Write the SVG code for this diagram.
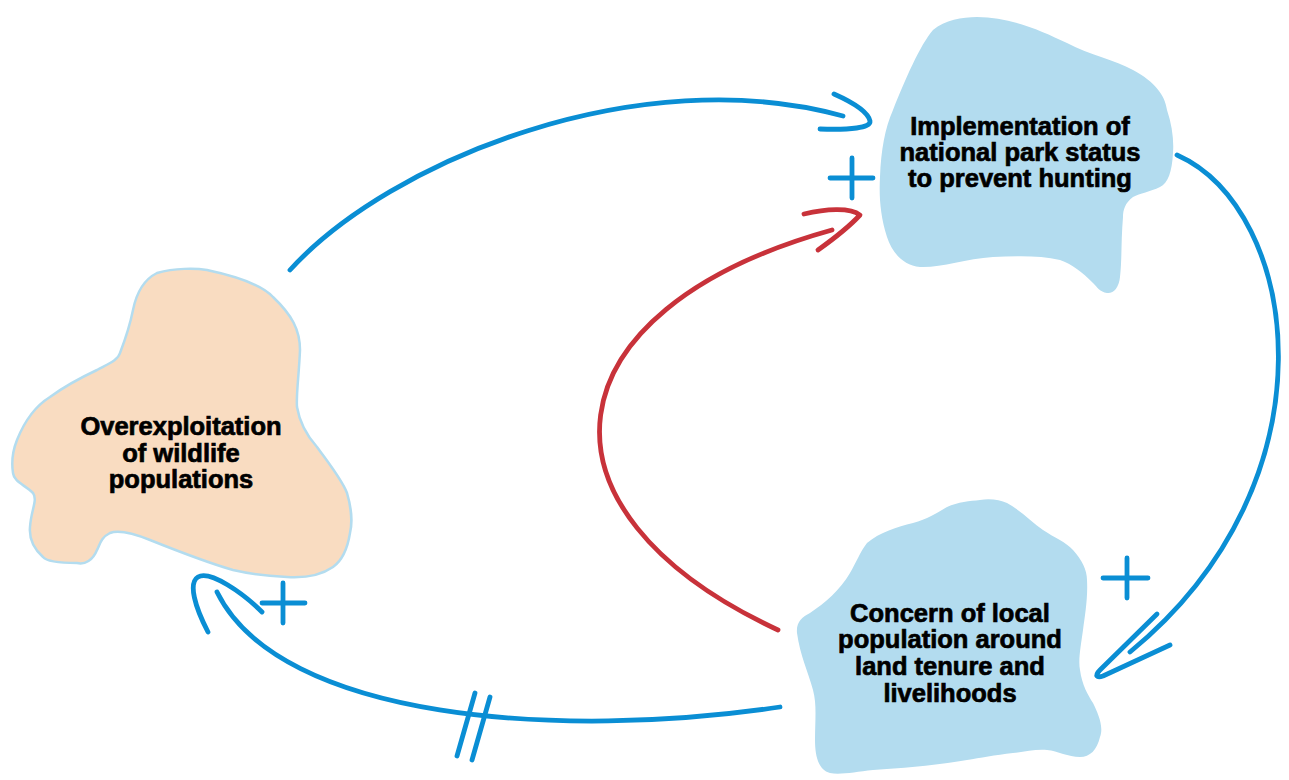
<svg xmlns="http://www.w3.org/2000/svg" width="1289" height="780" viewBox="0 0 1289 780">
<style>
.blob{fill:#b3dcef;stroke:none}
.peach{fill:#f9dcc1;stroke:#b3dcef;stroke-width:2.5}
.lbl{font-family:"Liberation Sans",Arial,sans-serif;font-weight:700;font-size:25.5px;fill:#000;stroke:#000;stroke-width:0.7;text-anchor:middle}
.b{fill:none;stroke:#0a8ed4;stroke-width:4.8;stroke-linecap:round;stroke-linejoin:round}
.r{fill:none;stroke:#c8323a;stroke-width:4.8;stroke-linecap:round;stroke-linejoin:round}
</style>
<rect width="1289" height="780" fill="#fff"/>
<g id="node-overexploitation">
<path class="peach" d="M157,273 C175,268 195,268 207,270 C235,276 262,285 273,297 C292,315 300,330 300,350 C299,375 296,395 297,407 C300,425 308,437 317,447 C330,465 342,480 347,493 C352,510 352,525 350,533 C347,552 340,562 333,567 C320,576 303,578 287,577 C268,576 250,574 233,570 C205,562 175,550 150,540 C130,532 118,530 110,533 C100,538 100,545 97,550 C93,560 85,565 77,563 C60,563 47,562 43,557 C33,548 29,538 30,527 C31,510 38,500 33,493 C25,485 14,482 13,473 C11,460 13,450 17,440 C25,420 37,405 50,397 C65,386 80,378 97,370 C110,363 118,360 120,353 C125,340 130,325 133,310 C136,295 143,280 157,273 Z"/>
<text class="lbl" x="181" y="435">Overexploitation</text>
<text class="lbl" x="181" y="462">of wildlife</text>
<text class="lbl" x="181" y="488">populations</text>
</g>
<g id="node-implementation">
<path class="blob" d="M933,30 C945,20 962,17 977,17 C1010,17 1040,30 1067,43 C1090,55 1115,60 1133,70 C1155,82 1165,95 1167,110 C1172,125 1174,140 1173,153 C1172,172 1168,183 1160,187 C1150,192 1140,193 1133,197 C1125,203 1123,210 1123,217 C1121,240 1122,260 1120,277 C1119,288 1113,294 1107,293 C1100,292 1097,287 1093,283 C1082,272 1072,264 1060,260 C1040,255 1015,256 993,257 C965,259 940,268 920,267 C902,265 892,252 887,237 C880,215 879,195 880,177 C881,150 885,128 893,110 C905,80 920,45 933,30 Z"/>
<text class="lbl" x="1020" y="135">Implementation of</text>
<text class="lbl" x="1020" y="161">national park status</text>
<text class="lbl" x="1020" y="187">to prevent hunting</text>
</g>
<g id="node-concern">
<path class="blob" d="M980,500 C990,498 1000,500 1007,503 C1020,510 1032,522 1043,530 C1055,538 1066,542 1073,550 C1082,560 1087,570 1087,580 C1088,598 1085,615 1083,630 C1081,645 1078,660 1080,670 C1082,685 1088,695 1093,703 C1098,713 1104,727 1100,737 C1097,750 1090,757 1080,757 C1068,757 1058,751 1047,750 C1035,749 1025,752 1013,753 C995,755 980,758 967,760 C940,765 905,768 873,770 C855,772 840,775 830,773 C818,770 815,755 815,740 C815,720 817,705 813,690 C808,672 800,655 797,633 C796,622 802,617 810,613 C825,603 840,590 850,573 C856,563 860,552 867,543 C880,532 897,527 913,523 C928,519 938,512 947,507 C958,502 970,501 980,500 Z"/>
<text class="lbl" x="950" y="622">Concern of local</text>
<text class="lbl" x="950" y="648">population around</text>
<text class="lbl" x="950" y="675">land tenure and</text>
<text class="lbl" x="950" y="702">livelihoods</text>
</g>
<g id="connectors">
<path class="b" d="M290,270 C390,160 640,60 843,116"/>
<path class="b" d="M834,94 C852,102 868,112 870,121 C871,128 850,130 820,129"/>
<path class="b" d="M830,178 L873,178 M852,158 L852,198"/>
<path class="r" d="M778,630 C520,510 545,310 832,230"/>
<path class="r" d="M804,214 C825,209 850,207 860,215 C848,228 832,240 818,250"/>
<path class="b" d="M1177,155 C1300,210 1340,480 1130,652"/>
<path class="b" d="M1157,614 L1100,670 C1094,676 1097,678 1103,676 L1170,645"/>
<path class="b" d="M1103,578 L1148,578 M1127,558 L1127,598"/>
<path class="b" d="M780,707 C560,740 280,720 217,592"/>
<path class="b" d="M208,632 C195,607 188,583 198,577 C210,570 243,593 262,612"/>
<path class="b" d="M262,603 L305,603 M283,583 L283,623"/>
<path class="b" d="M475,693 L457,756 M490,697 L472,760"/>
</g>
</svg>
